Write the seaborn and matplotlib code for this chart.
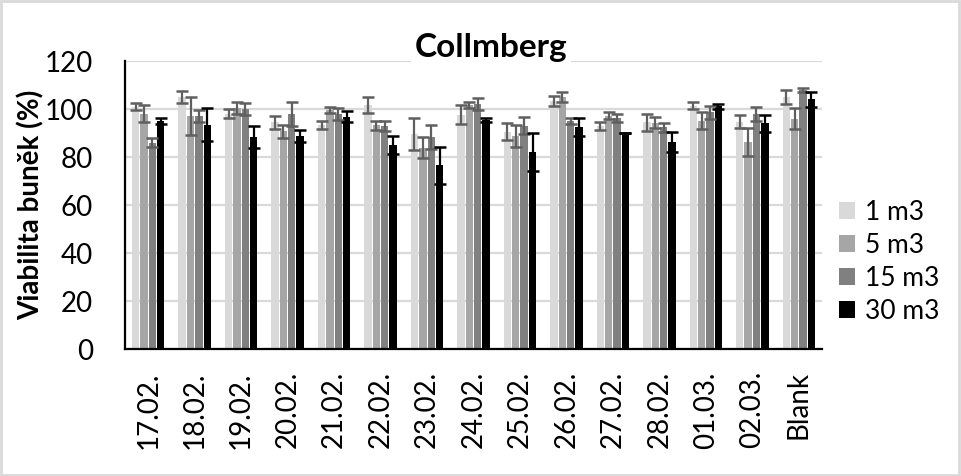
import numpy as np
import pandas as pd
import seaborn as sns
import matplotlib.pyplot as plt
from matplotlib.patches import Rectangle

dny = ['17.02.', '18.02.', '19.02.', '20.02.', '21.02.', '22.02.', '23.02.',
       '24.02.', '25.02.', '26.02.', '27.02.', '28.02.', '01.03.', '02.03.', 'Blank']
objemy = ['1 m3', '5 m3', '15 m3', '30 m3']

v_1 = [101, 105, 98, 94.4, 93.3, 101.7, 89.7, 97.6, 90.6, 103.3, 92.8, 94.4, 101.4, 94.7, 105]
v_5 = [98, 97, 100.4, 90.7, 99.5, 93.2, 83.9, 101.7, 88.8, 104.9, 97.2, 94.3, 95.1, 86.4, 96]
v_15 = [86, 97, 100, 97.8, 98, 93, 88.3, 102, 93, 95, 96.1, 92.4, 98.6, 97.8, 107.9]
v_30 = [95, 93.5, 88.5, 88.9, 96.8, 85.1, 76.5, 95.4, 82, 92.6, 90, 86.4, 101.1, 94, 104]

e_1 = [1.5, 2.4, 1.8, 2.8, 1.7, 3.3, 6.7, 4, 3.6, 2, 1.7, 3.6, 1.4, 2.8, 2.8]
e_5 = [3.5, 8, 2.4, 2.6, 1.2, 2, 4.4, 1.1, 4.6, 2, 1.4, 2.4, 3.5, 5.8, 4.3]
e_15 = [2, 2.6, 2.4, 5, 2.4, 2, 5, 2.5, 3.6, 1.1, 1.7, 1.8, 2.8, 3, 1]
e_30 = [1.2, 7, 4.6, 2.5, 2.2, 3.7, 7.6, 1, 8, 3.7, 0, 4.2, 1.1, 3.7, 3.2]

barvy = ['#d9d9d9', '#a6a6a6', '#808080', '#000000']
barvy_chyb = ['#5f5f5f', '#5f5f5f', '#5f5f5f', '#000000']

df = pd.DataFrame({
    'den': dny * 4,
    'objem': np.repeat(objemy, len(dny)),
    'viabilita': v_1 + v_5 + v_15 + v_30,
})

plt.rcParams['font.family'] = ['Lato', 'DejaVu Sans']

fig = plt.figure(figsize=(9.61, 4.76), dpi=100)
ax = fig.add_axes([125 / 961, 1 - 349 / 476, (822 - 125) / 961, (349 - 61) / 476])

sns.barplot(data=df, x='den', y='viabilita', hue='objem', palette=barvy,
            errorbar=None, width=0.72, gap=0.12, saturation=1, ax=ax, legend=True)

for cont, err, c in zip(ax.containers, [e_1, e_5, e_15, e_30], barvy_chyb):
    xs = [p.get_x() + p.get_width() / 2 for p in cont]
    ys = [p.get_height() for p in cont]
    ax.errorbar(xs, ys, yerr=err, fmt='none', ecolor=c, elinewidth=1.6,
                capsize=4, capthick=1.8, zorder=4)

ax.set_ylim(0, 120)
ax.set_yticks(range(0, 121, 20))
ax.set_xlim(-0.5, len(dny) - 0.5)
ax.set_axisbelow(True)
ax.grid(axis='y', color='#d9d9d9', linewidth=1.6)
ax.tick_params(axis='both', length=0, labelsize=20)
ax.tick_params(axis='y', pad=23)
ax.tick_params(axis='x', labelrotation=90, pad=16)
for s in ['top', 'right']:
    ax.spines[s].set_visible(False)
for s in ['left', 'bottom']:
    ax.spines[s].set_linewidth(1.6)
    ax.spines[s].set_color('black')

ax.set_xlabel('')
ax.set_ylabel('Viabilita buněk (%)', fontsize=20, fontweight='bold', labelpad=0)

ax.text(0.525, 1.047, 'Collmberg', transform=ax.transAxes, ha='center', va='center',
        fontsize=24, fontweight='bold', zorder=5,
        bbox=dict(facecolor='white', edgecolor='none', pad=3))

h, l = ax.get_legend_handles_labels()
ax.get_legend().remove()
fig.legend(h, l, loc='center left', bbox_to_anchor=(0.862, 0.45), frameon=False,
           fontsize=19, handlelength=0.6, handleheight=0.6, handletextpad=0.4,
           labelspacing=0.3, borderaxespad=0)

fig.patches.append(Rectangle((0.001, 0.002), 0.997, 0.995, transform=fig.transFigure,
                             fill=False, edgecolor='#d9d9d9', linewidth=2))

fig.savefig('out.png', dpi=100)
